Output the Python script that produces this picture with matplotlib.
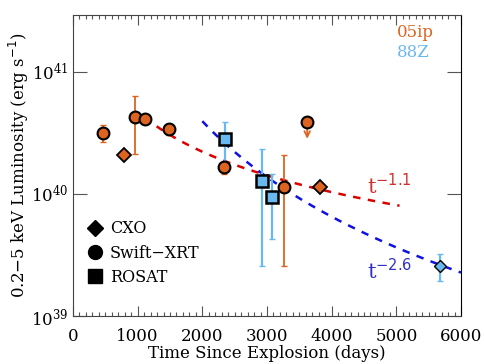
import numpy as np
import matplotlib
matplotlib.use("Agg")
import matplotlib.pyplot as plt
from matplotlib.lines import Line2D
from matplotlib.ticker import MultipleLocator, LogLocator, NullLocator

# Farben
ORANGE = "#dc6420"
LIGHTBLUE = "#6ab8f0"

# Swift-XRT (SN 2005ip)
swift_t = [470, 953, 1108, 1484, 2334, 3256]
swift_L = [3.18e40, 4.25e40, 4.12e40, 3.39e40, 1.66e40, 1.15e40]
swift_lo = [2.69e40, 2.13e40, 4.12e40, 3.05e40, 1.46e40, 2.57e39]
swift_hi = [3.66e40, 6.35e40, 4.12e40, 3.75e40, 1.82e40, 2.07e40]

# Swift-XRT Obergrenze
ul_t = [3622]
ul_L = [3.86e40]
ul_arrow_end = [2.69e40]

# CXO (SN 2005ip)
cxo_t = [793, 3818]
cxo_L = [2.10e40, 1.14e40]

# CXO (SN 1988Z)
cxo88_t = [5677]
cxo88_L = [2.58e39]
cxo88_lo = [1.94e39]
cxo88_hi = [3.24e39]

# ROSAT (SN 1988Z)
rosat_t = [2354, 2926, 3076]
rosat_L = [2.83e40, 1.28e40, 9.44e39]
rosat_lo = [1.80e40, 2.58e39, 4.30e39]
rosat_hi = [3.87e40, 2.32e40, 1.47e40]

# Potenzgesetz-Anpassungen
fit1_t0, fit1_L0, fit1_idx, fit1_range = 1108, 4.25e40, -1.1, (1108, 5050)
fit2_t0, fit2_L0, fit2_idx, fit2_range = 2000, 3.95e40, -2.6, (2000, 6000)


def yerr(val, lo, hi):
    v = np.array(val)
    return [v - np.array(lo), np.array(hi) - v]


plt.rcParams["font.family"] = "DejaVu Serif"
fig = plt.figure(figsize=(4.85, 3.64), dpi=100)
ax = fig.add_axes([0.1505, 0.1319, 0.80, 0.8269])

# Anpassungslinien
t1 = np.linspace(*fit1_range, 200)
ax.plot(t1, fit1_L0 * (t1 / fit1_t0) ** fit1_idx, color="#d80000", ls=(0, (3, 3)), lw=1.8, zorder=2)
t2 = np.linspace(*fit2_range, 200)
ax.plot(t2, fit2_L0 * (t2 / fit2_t0) ** fit2_idx, color="#1010e0", ls=(0, (3, 3)), lw=1.8, zorder=2)

# Fehlerbalken
ax.errorbar(swift_t, swift_L, yerr=yerr(swift_L, swift_lo, swift_hi), fmt="none",
            ecolor=ORANGE, elinewidth=1.3, capsize=2, zorder=3)
ax.errorbar(rosat_t, rosat_L, yerr=yerr(rosat_L, rosat_lo, rosat_hi), fmt="none",
            ecolor=LIGHTBLUE, elinewidth=1.6, capsize=2, zorder=3)
ax.errorbar(cxo88_t, cxo88_L, yerr=yerr(cxo88_L, cxo88_lo, cxo88_hi), fmt="none",
            ecolor=LIGHTBLUE, elinewidth=1.6, capsize=2, zorder=3)

# Obergrenze mit Pfeil
for t, L, e in zip(ul_t, ul_L, ul_arrow_end):
    ax.annotate("", xy=(t, e), xytext=(t, L), zorder=3,
                arrowprops=dict(arrowstyle="->", color=ORANGE, lw=1.3))

# Punkte
ax.plot(swift_t, swift_L, "o", ms=8.5, mfc=ORANGE, mec="black", mew=1.5, zorder=4)
ax.plot(ul_t, ul_L, "o", ms=8.5, mfc=ORANGE, mec="black", mew=1.5, zorder=4)
ax.plot(cxo_t, cxo_L, "D", ms=7, mfc=ORANGE, mec="black", mew=1.3, zorder=4)
ax.plot(cxo88_t, cxo88_L, "D", ms=6, mfc=LIGHTBLUE, mec="black", mew=1.0, zorder=4)
ax.plot(rosat_t, rosat_L, "s", ms=8, mfc=LIGHTBLUE, mec="black", mew=1.8, zorder=4)

# Beschriftungen
ax.text(4550, 1.0e40, r"t$^{-1.1}$", color="#d03030", fontsize=15, ha="left", va="baseline")
ax.text(4550, 2.0e39, r"t$^{-2.6}$", color="#3030c8", fontsize=15, ha="left", va="baseline")
ax.text(0.835, 0.943, "05ip", transform=ax.transAxes, color=ORANGE, fontsize=12, ha="left", va="center")
ax.text(0.835, 0.874, "88Z", transform=ax.transAxes, color=LIGHTBLUE, fontsize=12, ha="left", va="center")

handles = [
    Line2D([], [], marker="D", ls="none", color="black", ms=8),
    Line2D([], [], marker="o", ls="none", color="black", ms=10),
    Line2D([], [], marker="s", ls="none", color="black", ms=10),
]
ax.legend(handles, ["CXO", "Swift\u2212XRT", "ROSAT"], loc="center left",
          bbox_to_anchor=(0.0, 0.209), frameon=False, fontsize=11.5,
          handletextpad=0.2, labelspacing=0.45, handlelength=1.4, borderpad=0.2)

# Achsen
ax.set_xlim(0, 6000)
ax.set_yscale("log")
ax.set_ylim(1e39, 2.93e41)
ax.xaxis.set_major_locator(MultipleLocator(1000))
ax.xaxis.set_minor_locator(MultipleLocator(100))
ax.yaxis.set_major_locator(LogLocator(base=10))
ax.yaxis.set_minor_locator(NullLocator())
ax.tick_params(which="both", direction="in", top=True, right=True, labelsize=12, color="#555555")
ax.tick_params(which="major", length=7, width=0.8)
ax.tick_params(which="minor", length=3, width=0.8)
ax.tick_params(axis="y", which="major", length=10)
ax.tick_params(axis="x", pad=9)
for s in ax.spines.values():
    s.set_color("#444444")
ax.spines["right"].set_color("black")
ax.set_xlabel("Time Since Explosion (days)", fontsize=12, labelpad=0)
ax.set_ylabel(r"0.2$-$5 keV Luminosity (erg s$^{-1}$)", fontsize=12, labelpad=0)

fig.savefig("out.png", dpi=100)
